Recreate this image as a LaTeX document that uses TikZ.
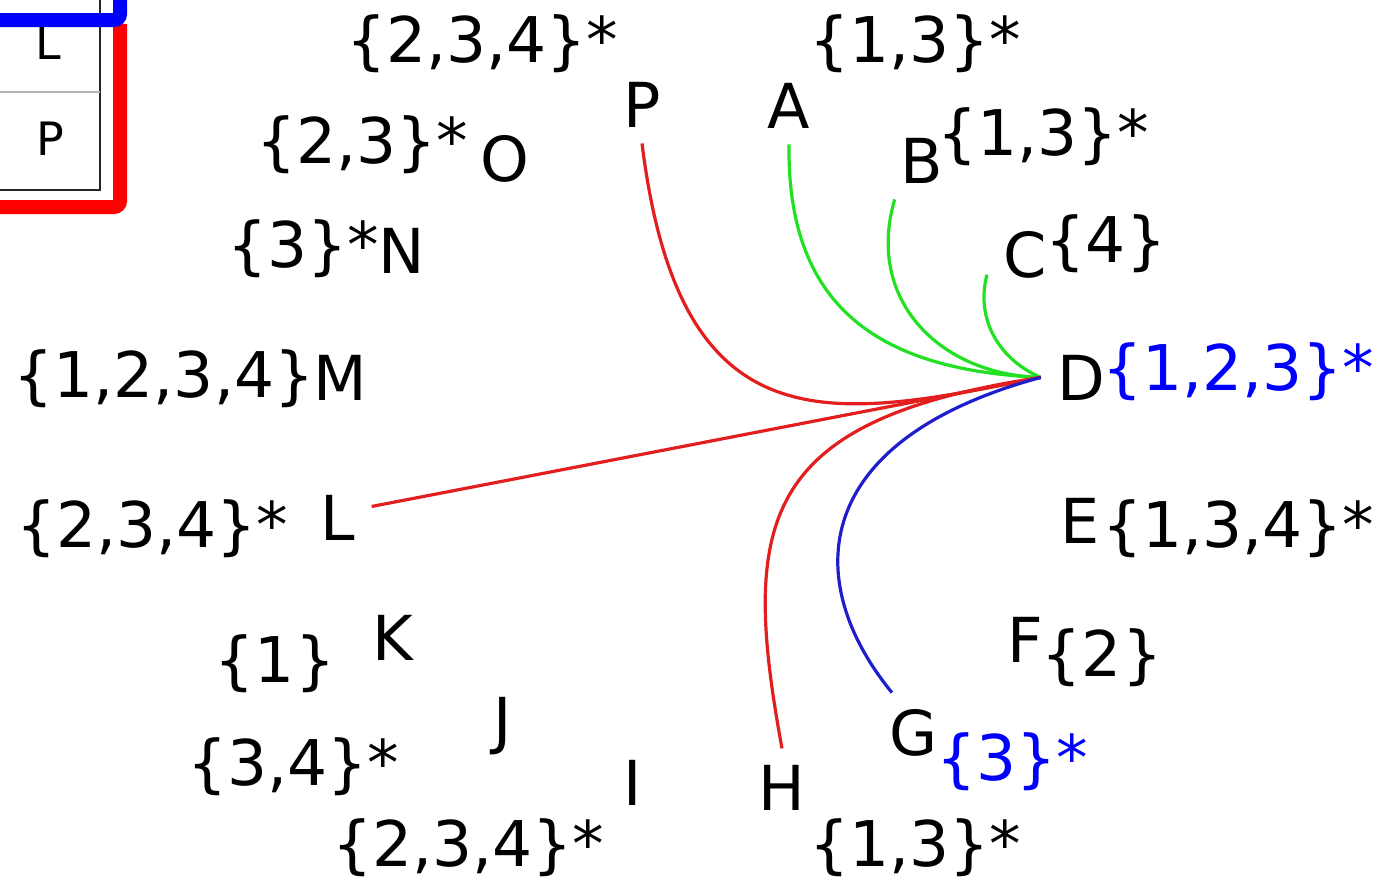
\documentclass[tikz,border=0pt]{standalone}
\usepackage{fontspec}
\setmainfont{DejaVu Sans}
\definecolor{linkred}{HTML}{E31E1E}
\definecolor{linkgreen}{HTML}{22E022}
\definecolor{linkblue}{HTML}{1E1ECC}
\definecolor{markblue}{HTML}{0000FF}
\definecolor{markred}{HTML}{FF0000}

\begin{document}
\begin{tikzpicture}[
    x=0.5pt, y=-0.5pt,
    vertex/.style={font=\fontsize{31}{36}\selectfont, inner sep=8pt, anchor=base},
    setlbl/.style={font=\fontsize{31.5}{36}\selectfont, inner sep=0pt, anchor=base},
    hot/.style={setlbl, text=markblue},
    cell/.style={font=\fontsize{23}{28}\selectfont, inner sep=0pt, anchor=base},
    link/.style={line width=1.6pt, draw=#1},
    band/.style={line width=7pt, draw=#1, rounded corners=3pt}
]
    \useasboundingbox (0,0) rectangle (1381,890);
    \clip (0,0) rectangle (1381,890);

    % Table corner (top left)
    \draw[line width=0.8pt, black!85] (-10,-10) rectangle (100,190);
    \draw[line width=0.6pt, black!30] (-10,92) -- (100,92);
    \node[cell] (cellL) at (48,59) {L};
    \node[cell] (cellP) at (50,155) {P};
    \draw[band=markred] (120,24) -- (120,207) -- (-10,207);
    \draw[band=markblue] (-10,20) -- (120,20) -- (120,-10);

    % Vertices
    \node[vertex] (A) at (789,128) {A};
    \node[vertex] (B) at (922,183) {B};
    \node[vertex] (C) at (1025,277) {C};
    \node[vertex] (D) at (1081,400) {D};
    \node[vertex] (E) at (1080,543) {E};
    \node[vertex] (F) at (1025,662) {F};
    \node[vertex] (G) at (914,755) {G};
    \node[vertex] (H) at (782,810) {H};
    \node[vertex] (I) at (633,805) {I};
    \node[vertex] (J) at (503,742) {J};
    \node[vertex] (K) at (393,660) {K};
    \node[vertex] (L) at (338,540) {L};
    \node[vertex] (M) at (340,400) {M};
    \node[vertex] (N) at (402,273) {N};
    \node[vertex] (O) at (505,181) {O};
    \node[vertex] (P) at (642,127) {P};

    % Sets
    \node[setlbl] (setA) at (915,62) {\{1,3\}*};
    \node[setlbl] (setB) at (1043,155) {\{1,3\}*};
    \node[setlbl] (setC) at (1106,262) {\{4\}};
    \node[hot] (setD) at (1238,390) {\{1,2,3\}*};
    \node[setlbl] (setE) at (1238,547) {\{1,3,4\}*};
    \node[setlbl] (setF) at (1102,676) {\{2\}};
    \node[hot] (setG) at (1012,780) {\{3\}*};
    \node[setlbl] (setH) at (915,866) {\{1,3\}*};
    \node[setlbl] (setI) at (468,866) {\{2,3,4\}*};
    \node[setlbl] (setJ) at (293,785) {\{3,4\}*};
    \node[setlbl] (setK) at (275,682) {\{1\}};
    \node[setlbl] (setL) at (152,547) {\{2,3,4\}*};
    \node[setlbl] (setM) at (164,397) {\{1,2,3,4\}};
    \node[setlbl] (setN) at (303,267) {\{3\}*};
    \node[setlbl] (setO) at (362,163) {\{2,3\}*};
    \node[setlbl] (setP) at (482,62) {\{2,3,4\}*};

    % Links into D
    \draw[link=linkgreen] (A.south) .. controls (787,300) and (870,370) .. (D.west);
    \draw[link=linkgreen] (B.-125) .. controls (865,300) and (940,375) .. (D.west);
    \draw[link=linkgreen] (C.-152) .. controls (975,320) and (1000,360) .. (D.west);
    \draw[link=linkred] (P.south) .. controls (680,450) and (830,420) .. (D.west);
    \draw[link=linkred] (L.18) -- (D.west);
    \draw[link=linkred] (H.north) .. controls (740,520) and (760,420) .. (D.west);
    \draw[link=linkblue] (G.119) .. controls (800,580) and (810,440) .. (D.west);
\end{tikzpicture}
\end{document}
